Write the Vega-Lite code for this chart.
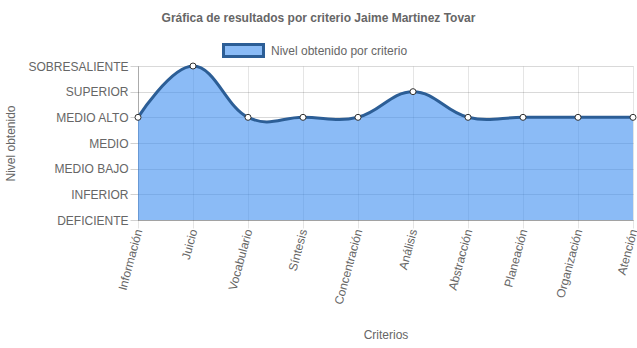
{
  "$schema": "https://vega.github.io/schema/vega-lite/v6.json",
  "autosize": "none",
  "width": 495,
  "height": 154,
  "padding": {"left": 138, "top": 66, "right": 4, "bottom": 128},
  "background": "white",
  "title": {
    "text": "Gráfica de resultados por criterio Jaime Martinez Tovar",
    "font": "Liberation Sans",
    "fontSize": 12,
    "fontWeight": "bold",
    "color": "#666666",
    "anchor": "middle",
    "dx": -67,
    "offset": 4
  },
  "data": {
    "values": [
      {"criterio": "Información", "nivel": "MEDIO ALTO", "puntaje": 4, "serie": "Nivel obtenido por criterio"},
      {"criterio": "Juicio", "nivel": "SOBRESALIENTE", "puntaje": 6, "serie": "Nivel obtenido por criterio"},
      {"criterio": "Vocabulario", "nivel": "MEDIO ALTO", "puntaje": 4, "serie": "Nivel obtenido por criterio"},
      {"criterio": "Síntesis", "nivel": "MEDIO ALTO", "puntaje": 4, "serie": "Nivel obtenido por criterio"},
      {"criterio": "Concentración", "nivel": "MEDIO ALTO", "puntaje": 4, "serie": "Nivel obtenido por criterio"},
      {"criterio": "Análisis", "nivel": "SUPERIOR", "puntaje": 5, "serie": "Nivel obtenido por criterio"},
      {"criterio": "Abstracción", "nivel": "MEDIO ALTO", "puntaje": 4, "serie": "Nivel obtenido por criterio"},
      {"criterio": "Planeación", "nivel": "MEDIO ALTO", "puntaje": 4, "serie": "Nivel obtenido por criterio"},
      {"criterio": "Organización", "nivel": "MEDIO ALTO", "puntaje": 4, "serie": "Nivel obtenido por criterio"},
      {"criterio": "Atención", "nivel": "MEDIO ALTO", "puntaje": 4, "serie": "Nivel obtenido por criterio"}
    ]
  },
  "encoding": {
    "x": {
      "field": "criterio",
      "type": "ordinal",
      "sort": null,
      "scale": {"type": "point", "padding": 0},
      "axis": {
        "title": "Criterios",
        "titleFont": "Liberation Sans",
        "titleFontSize": 12,
        "titleFontWeight": "normal",
        "titleColor": "#666666",
        "titlePadding": 24,
        "labelFont": "Liberation Sans",
        "labelFontSize": 12,
        "labelColor": "#666666",
        "labelAngle": -75,
        "labelAlign": "right",
        "labelBaseline": "middle",
        "labelPadding": 1,
        "tickSize": 8,
        "tickColor": "rgba(0,0,0,0.1)",
        "domainColor": "rgba(0,0,0,0.25)",
        "grid": true,
        "gridColor": "rgba(0,0,0,0.1)"
      }
    },
    "y": {
      "field": "puntaje",
      "type": "quantitative",
      "scale": {"domain": [0, 6], "nice": false},
      "axis": {
        "title": "Nivel obtenido",
        "titleFont": "Liberation Sans",
        "titleFontSize": 12,
        "titleFontWeight": "normal",
        "titleColor": "#666666",
        "titlePadding": 10,
        "values": [0, 1, 2, 3, 4, 5, 6],
        "labelExpr": "['DEFICIENTE','INFERIOR','MEDIO BAJO','MEDIO','MEDIO ALTO','SUPERIOR','SOBRESALIENTE'][datum.value]",
        "labelFont": "Liberation Sans",
        "labelFontSize": 12,
        "labelColor": "#666666",
        "labelPadding": 2,
        "tickSize": 8,
        "tickColor": "rgba(0,0,0,0.18)",
        "domainColor": "rgba(0,0,0,0.25)",
        "grid": true,
        "gridColor": "rgba(0,0,0,0.15)"
      }
    }
  },
  "layer": [
    {
      "mark": {"type": "area", "interpolate": "cardinal", "tension": -0.2, "fill": "#3d8ef0", "fillOpacity": 0.6},
      "encoding": {
        "color": {
          "field": "serie",
          "type": "nominal",
          "scale": {"range": ["#8abbf6"]},
          "legend": {
            "title": null,
            "orient": "none",
            "legendX": 84,
            "legendY": -37,
            "symbolType": "M-1,-0.3L1,-0.3L1,0.3L-1,0.3Z",
            "symbolSize": 1600,
            "symbolFillColor": "#8abbf6",
            "symbolStrokeColor": "#2c5e96",
            "symbolStrokeWidth": 3,
            "symbolOpacity": 1,
            "labelFont": "Liberation Sans",
            "labelFontSize": 12,
            "labelColor": "#666666",
            "labelOffset": 6
          }
        }
      }
    },
    {
      "mark": {"type": "line", "interpolate": "cardinal", "tension": -0.2, "color": "#2c5e96", "strokeWidth": 3}
    },
    {
      "mark": {"type": "point", "filled": true, "fill": "white", "stroke": "#333333", "strokeWidth": 1, "size": 36, "opacity": 1}
    }
  ],
  "config": {"view": {"stroke": null}}
}
